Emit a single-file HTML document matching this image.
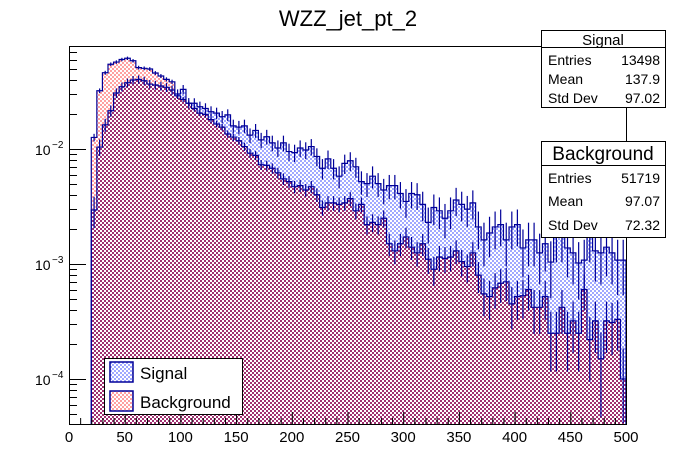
<!DOCTYPE html>
<html><head><meta charset="utf-8"><style>
body{margin:0;background:#fff;font-family:"Liberation Sans",Arial,sans-serif;}
svg{display:block}
</style></head><body>
<svg id="c" width="696" height="472" xmlns="http://www.w3.org/2000/svg">
<defs>
<pattern id="pb" width="4" height="4" patternUnits="userSpaceOnUse"><rect width="4" height="4" fill="#fff"/><rect width="2" height="2" fill="#ffa0a0"/><rect x="2" y="2" width="2" height="2" fill="#ffa0a0"/></pattern>
<pattern id="ps" width="4" height="4" patternUnits="userSpaceOnUse"><rect width="4" height="4" fill="#fff"/><rect width="2" height="2" fill="#a0a8ff"/><rect x="2" y="2" width="2" height="2" fill="#a0a8ff"/></pattern>
<pattern id="po" width="4" height="4" patternUnits="userSpaceOnUse"><rect width="4" height="4" fill="#fff"/><rect width="2" height="2" fill="#a03070"/><rect x="2" y="2" width="2" height="2" fill="#a03070"/></pattern>
</defs>
<rect width="696" height="472" fill="#fff"/>
<g id="plot"></g>
<text x="348" y="26" text-anchor="middle" font-size="22">WZZ_jet_pt_2</text>
<g font-size="14">
<rect x="541.5" y="30.5" width="124" height="77" fill="#fff" stroke="#000"/>
<line x1="541.5" y1="47.5" x2="665.5" y2="47.5" stroke="#000"/>
<text x="603" y="45" text-anchor="middle" font-size="15">Signal</text>
<text x="548" y="65">Entries</text><text x="660" y="65" text-anchor="end">13498</text>
<text x="548" y="84">Mean</text><text x="660" y="84" text-anchor="end">137.9</text>
<text x="548" y="103">Std Dev</text><text x="660" y="103" text-anchor="end">97.02</text>
</g>
<line x1="626.5" y1="107.5" x2="626.5" y2="141.5" stroke="#000"/>
<g font-size="14">
<rect x="541.5" y="141.5" width="124" height="96" fill="#fff" stroke="#000"/>
<line x1="541.5" y1="165.5" x2="665.5" y2="165.5" stroke="#000"/>
<text x="603" y="160" text-anchor="middle" font-size="19">Background</text>
<text x="548" y="183">Entries</text><text x="660" y="183" text-anchor="end">51719</text>
<text x="548" y="206">Mean</text><text x="660" y="206" text-anchor="end">97.07</text>
<text x="548" y="230">Std Dev</text><text x="660" y="230" text-anchor="end">72.32</text>
</g>
<g font-size="17">
<rect x="104.5" y="358.5" width="138" height="56" fill="#fff" stroke="#000"/>
<rect x="110" y="362" width="23" height="20" fill="url(#ps)" stroke="#000099" stroke-width="1.5"/>
<text x="140" y="379">Signal</text>
<rect x="110" y="391" width="23" height="20" fill="url(#pb)" stroke="#000099" stroke-width="1.5"/>
<text x="140" y="408">Background</text>
</g>
</svg>
<script>
const binStart = 20, binWidth = 5;
const signalValues = [0.00295,0.0104,0.0162,0.0215,0.0307,0.0348,0.0377,0.0398,0.0403,0.0392,0.0367,0.036,0.0353,0.0344,0.0326,0.0301,
0.033,0.0251,0.025,0.0233,0.0225,0.0211,0.0205,0.0191,0.0198,0.0159,0.0155,0.0159,0.0132,0.0145,0.012,0.0128,0.0113,0.0102,0.0113,0.0095,0.0093,0.0102,0.0098,0.0105,0.0086,0.0068,0.0082,0.0068,
0.0058,0.0075,0.0079,0.0070,0.0052,0.0050,0.0058,0.0050,0.0044,0.0048,0.0048,0.0041,0.0035,0.0041,0.0040,0.0033,0.0023,0.0031,0.0029,0.0025,0.0029,0.0036,0.0033,0.0030,0.0034,0.0021,0.00162,0.00186,0.0021,0.0022,0.00162,0.0021,0.0022,0.00138,0.00162,0.00162,0.00125,0.0015,0.00104,0.00172,0.00172,0.00138,0.00125,0.00102,0.00108,0.00172,0.0013,0.00125,0.0014,0.00125,0.00108,0.00108];
const backgroundValues = [0.0126,0.0321,0.046,0.0546,0.057,0.060,0.0615,0.0585,0.051,0.0503,0.0496,0.0458,0.0431,0.0403,0.0384,
0.029,0.027,0.025,0.0225,0.0205,0.02,0.018,0.0165,0.0155,0.0135,0.0127,0.0118,0.0105,0.0092,0.0088,0.0073,0.0072,0.0068,0.0062,0.0055,0.0052,0.0047,0.0048,0.0044,0.0047,0.004,0.0031,0.0034,0.0034,0.0033,0.0034,0.0037,0.0029,0.0033,0.0022,0.0023,0.0022,0.0025,0.0015,0.0013,0.0015,0.00172,0.0014,0.00125,0.0015,0.0011,0.0009,0.00115,0.00112,0.00115,0.0013,0.00105,0.00095,0.00125,0.0008,0.00055,0.00052,0.00062,0.00068,0.0007,0.00045,0.00052,0.00053,0.0006,0.00042,0.00042,0.00052,0.00025,0.00025,0.00042,0.00025,0.00032,0.00025,0.0006,0.00022,0.00032,0.00015,0.00032,0.00031,0.00033,0.0001];
const signalEntries = 13498, backgroundEntries = 51719;
const xTickLabels = [0,50,100,150,200,250,300,350,400,450,500];
const yDecades = [-4,-3,-2];

const X0=69, X1=626, Y0=46, Y1=424;
const xs = v => X0 + (v/500)*(X1-X0);
const ys = v => 149 - (Math.log10(v)+2)*115;
const yMin = 4.14e-5;
const cl = y => Math.min(Y1, Math.max(Y0, y));
const NS='http://www.w3.org/2000/svg';
const plot=document.getElementById('plot');
function mk(t,a){const e=document.createElementNS(NS,t);for(const k in a)e.setAttribute(k,a[k]);plot.appendChild(e);return e;}

function areaPath(vals){
  let d='M'+xs(binStart)+','+Y1;
  vals.forEach((v,i)=>{const y=cl(ys(Math.max(v,yMin)));d+=' L'+xs(binStart+i*binWidth)+','+y+' L'+xs(binStart+(i+1)*binWidth)+','+y;});
  d+=' L'+xs(binStart+vals.length*binWidth)+','+Y1+' Z';return d;
}
function linePath(vals){
  let d='M'+xs(binStart)+','+Y1;
  vals.forEach((v,i)=>{const y=cl(ys(Math.max(v,yMin)));d+=' L'+xs(binStart+i*binWidth)+','+y+' L'+xs(binStart+(i+1)*binWidth)+','+y;});
  d+=' L'+xs(binStart+vals.length*binWidth)+','+Y1;return d;
}
const n=Math.min(signalValues.length,backgroundValues.length);
const minVals=[];for(let i=0;i<n;i++)minVals.push(Math.min(signalValues[i],backgroundValues[i]));

let e;
e=mk('path',{d:areaPath(backgroundValues),fill:'url(#pb)'});


e=mk('path',{d:areaPath(signalValues),fill:'url(#ps)'});


e=mk('path',{d:areaPath(minVals),fill:'url(#po)'});



function drawSeries(vals,N,name){
  const g=mk('g',{});
  
  
  const p=document.createElementNS(NS,'path');
  p.setAttribute('d',linePath(vals));p.setAttribute('fill','none');p.setAttribute('stroke','#000099');p.setAttribute('stroke-width','1.2');
  
  
  g.appendChild(p);
  vals.forEach((v,i)=>{
    const err=v/Math.sqrt(Math.max(v*N*0.27,1));
    const xc=xs(binStart+(i+0.5)*binWidth);
    const yt=cl(ys(v+err)), yb=cl(ys(Math.max(v-err,yMin)));
    const l=document.createElementNS(NS,'line');
    l.setAttribute('x1',xc);l.setAttribute('x2',xc);l.setAttribute('y1',yt);l.setAttribute('y2',yb);
    l.setAttribute('stroke','#000099');l.setAttribute('stroke-width','1.2');
    
    
    g.appendChild(l);
  });
}
drawSeries(backgroundValues,backgroundEntries,'background');
drawSeries(signalValues,signalEntries,'signal');

e=mk('rect',{x:X0+0.5,y:Y0+0.5,width:X1-X0,height:Y1-Y0,fill:'none',stroke:'#000'});


for(let v=0;v<=500;v+=10){
  const x=xs(v)+0.5, major=v%50===0;
  e=mk('line',{x1:x,x2:x,y1:Y1,y2:Y1-(major?12:6),stroke:'#000'});
  
  
}
xTickLabels.forEach(v=>{
  e=mk('text',{x:xs(v),y:Y1+18,'text-anchor':'middle','font-size':'15'});
  e.textContent=String(v);
  
  
});
for(let d=-5;d<=-1;d++){
  for(let m=1;m<10;m++){
    const v=m*Math.pow(10,d), y=ys(v);
    if(y<Y0||y>Y1)continue;
    e=mk('line',{x1:X0,x2:X0+(m===1?17:8),y1:Math.round(y)+0.5,y2:Math.round(y)+0.5,stroke:'#000'});
    
    
  }
}
yDecades.forEach(d=>{
  const y=ys(Math.pow(10,d));
  e=mk('text',{x:35,y:y+6,'font-size':'14'});
  e.textContent='10';
  
  
  const s=mk('text',{x:52,y:y-1,'font-size':'10'});
  s.textContent='\u2212'+(-d);
  
  
});
</script>
</body></html>
